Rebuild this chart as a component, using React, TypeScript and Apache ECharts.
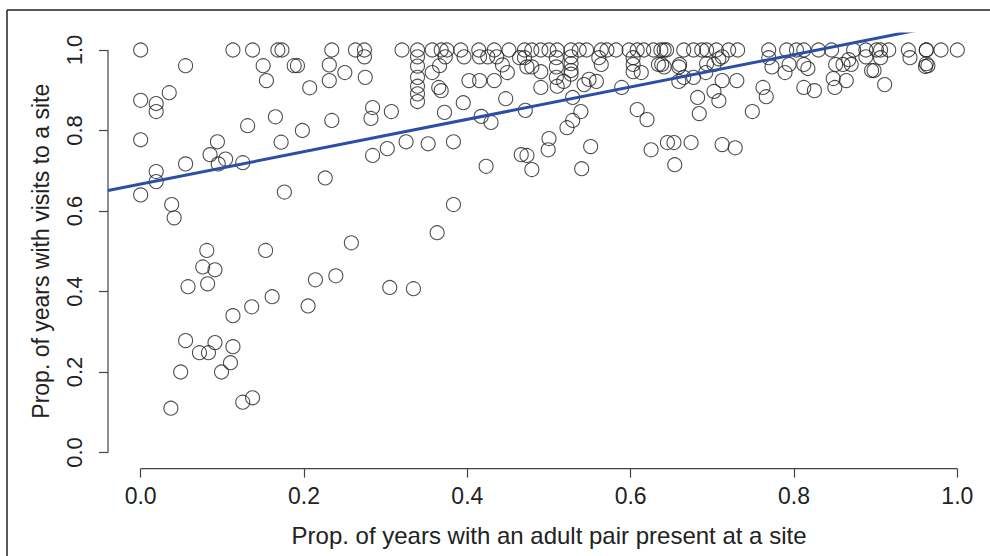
import React, { useEffect, useRef } from "react";
import * as echarts from "echarts";

// x-values of sites whose visit proportion is 1.0
const fullVisitX = [
  0, 0.113, 0.137, 0.168, 0.173, 0.234, 0.263, 0.274, 0.32, 0.339, 0.357, 0.368, 0.375, 0.392,
  0.414, 0.433, 0.451, 0.47, 0.479, 0.49, 0.5, 0.51, 0.527, 0.537, 0.546, 0.564, 0.571, 0.582,
  0.598, 0.608, 0.616, 0.628, 0.637, 0.641, 0.644, 0.665, 0.677, 0.687, 0.693, 0.705, 0.72,
  0.731, 0.769, 0.791, 0.803, 0.812, 0.83, 0.846, 0.873, 0.888, 0.901, 0.906, 0.916, 0.94,
  0.962, 0.962, 0.98, 1.0,
];

// remaining sites: [prop. years with adult pair, prop. years with visits]
const otherSites: [number, number][] = [
  [0.055, 0.961], [0.15, 0.961], [0.154, 0.924], [0.188, 0.961], [0.192, 0.961], [0.207, 0.906],
  [0.231, 0.963], [0.231, 0.924], [0.0, 0.875], [0.019, 0.867], [0.019, 0.847], [0.035, 0.894],
  [0.0, 0.777], [0.131, 0.812], [0.165, 0.834], [0.198, 0.8], [0.234, 0.825], [0.094, 0.772],
  [0.172, 0.771], [0.085, 0.74], [0.104, 0.729], [0.095, 0.717], [0.125, 0.72], [0.055, 0.717],
  [0.019, 0.698], [0.019, 0.673], [0.0, 0.64], [0.038, 0.616], [0.041, 0.583], [0.176, 0.647],
  [0.226, 0.682], [0.081, 0.502], [0.153, 0.502], [0.076, 0.461], [0.091, 0.454], [0.058, 0.412],
  [0.082, 0.419], [0.214, 0.429], [0.239, 0.439], [0.161, 0.387], [0.136, 0.362], [0.205, 0.364],
  [0.113, 0.34], [0.055, 0.278], [0.072, 0.248], [0.083, 0.248], [0.091, 0.273], [0.113, 0.263],
  [0.11, 0.223], [0.099, 0.2], [0.049, 0.2], [0.125, 0.125], [0.137, 0.136], [0.037, 0.11],
  [0.305, 0.41], [0.334, 0.407], [0.383, 0.616], [0.363, 0.546], [0.258, 0.521],
  [0.25, 0.944], [0.274, 0.983], [0.275, 0.932], [0.339, 0.983], [0.339, 0.96], [0.339, 0.932],
  [0.339, 0.91], [0.339, 0.891], [0.339, 0.872], [0.366, 0.961], [0.357, 0.944], [0.373, 0.983],
  [0.365, 0.907], [0.368, 0.899], [0.396, 0.983], [0.415, 0.983], [0.425, 0.983], [0.436, 0.983],
  [0.402, 0.924], [0.415, 0.924], [0.433, 0.924], [0.395, 0.869], [0.372, 0.845], [0.284, 0.857],
  [0.307, 0.847], [0.282, 0.83], [0.417, 0.835], [0.429, 0.82], [0.325, 0.772], [0.302, 0.755],
  [0.352, 0.767], [0.383, 0.772], [0.284, 0.738], [0.423, 0.711], [0.443, 0.963],
  [0.464, 0.981], [0.47, 0.981], [0.473, 0.958], [0.479, 0.958], [0.49, 0.946], [0.509, 0.981],
  [0.509, 0.958], [0.527, 0.983], [0.527, 0.966], [0.527, 0.949], [0.527, 0.94], [0.509, 0.932],
  [0.518, 0.922], [0.51, 0.91], [0.49, 0.907], [0.449, 0.944], [0.447, 0.879], [0.471, 0.85],
  [0.529, 0.882], [0.543, 0.914], [0.549, 0.927], [0.558, 0.922], [0.561, 0.981], [0.564, 0.964],
  [0.539, 0.847], [0.529, 0.825], [0.522, 0.807], [0.5, 0.78], [0.499, 0.752], [0.551, 0.76],
  [0.466, 0.74], [0.473, 0.738], [0.479, 0.703], [0.54, 0.705], [0.589, 0.907], [0.608, 0.852],
  [0.62, 0.827], [0.603, 0.981], [0.603, 0.964], [0.603, 0.946], [0.613, 0.944], [0.634, 0.964],
  [0.641, 0.958], [0.659, 0.958], [0.665, 0.932], [0.659, 0.922], [0.645, 0.77], [0.653, 0.77],
  [0.625, 0.752], [0.654, 0.715], [0.674, 0.77], [0.638, 0.964], [0.66, 0.964],
  [0.693, 0.966], [0.702, 0.964], [0.708, 0.978], [0.712, 0.983], [0.692, 0.944], [0.677, 0.932],
  [0.712, 0.924], [0.73, 0.924], [0.682, 0.882], [0.684, 0.842], [0.702, 0.897], [0.708, 0.874],
  [0.712, 0.765], [0.728, 0.757], [0.749, 0.847], [0.762, 0.907], [0.766, 0.884], [0.769, 0.981],
  [0.773, 0.958], [0.794, 0.964], [0.789, 0.944], [0.812, 0.964], [0.817, 0.954], [0.812, 0.907],
  [0.825, 0.899], [0.851, 0.964], [0.848, 0.929], [0.85, 0.907], [0.864, 0.924], [0.86, 0.964],
  [0.867, 0.976], [0.87, 0.964], [0.888, 0.983], [0.895, 0.949], [0.898, 0.949], [0.911, 0.914],
  [0.906, 0.981], [0.942, 0.981], [0.962, 0.966], [0.964, 0.961], [0.961, 0.959],
];

// fitted regression line end points
const fitX = [-0.04, 1.04];
const fitY = [0.651, 1.085];

const tickValues = [0, 0.2, 0.4, 0.6, 0.8, 1.0];
const axisLo = -0.04;
const axisHi = 1.04;

const FONT = "Liberation Sans, Arial, sans-serif";

export default function App() {
  const ref = useRef<HTMLDivElement>(null);
  useEffect(() => {
    if (!ref.current) return;
    const chart = echarts.init(ref.current, null, { renderer: "svg" });
    const points = [
      ...fullVisitX.map((x) => [x, 1.0]),
      ...otherSites.map((p) => [p[0], p[1]]),
    ];
    const axisCommon = {
      type: "value" as const,
      min: axisLo,
      max: axisHi,
      splitLine: { show: false },
      axisLine: { show: false, onZero: false },
      axisTick: {
        show: true,
        customValues: tickValues,
        length: 9,
        lineStyle: { color: "#444", width: 1.2 },
      },
      nameLocation: "middle" as const,
    };
    chart.setOption({
      animation: false,
      backgroundColor: "#fff",
      grid: { left: 108, top: 33.9, right: -2, bottom: 87.4, containLabel: false },
      xAxis: {
        ...axisCommon,
        name: "Prop. of years with an adult pair present at a site",
        nameGap: 55,
        nameTextStyle: { fontSize: 24, color: "#222", fontFamily: FONT },
        axisLabel: {
          customValues: tickValues,
          formatter: (v: number) => v.toFixed(1),
          fontSize: 23,
          color: "#222",
          fontFamily: FONT,
          margin: 16,
        },
      },
      yAxis: {
        ...axisCommon,
        name: "Prop. of years with visits to a site",
        nameGap: 56,
        nameRotate: 90,
        nameTextStyle: { fontSize: 23, color: "#222", fontFamily: FONT },
        axisLabel: {
          customValues: tickValues,
          formatter: (v: number) => v.toFixed(1),
          fontSize: 22,
          color: "#222",
          fontFamily: FONT,
          rotate: 90,
          margin: 23,
        },
      },
      graphic: [
        { type: "line", shape: { x1: 7, y1: 10, x2: 990, y2: 10 }, style: { stroke: "#222", lineWidth: 1.5 } },
        { type: "line", shape: { x1: 7, y1: 10, x2: 7, y2: 556 }, style: { stroke: "#222", lineWidth: 1.5 } },
      ],
      series: [
        {
          type: "line",
          data: [[tickValues[0], axisLo], [tickValues[tickValues.length - 1], axisLo]],
          symbol: "none",
          silent: true,
          clip: false,
          lineStyle: { color: "#444", width: 1.2 },
        },
        {
          type: "line",
          data: [[axisLo, tickValues[0]], [axisLo, tickValues[tickValues.length - 1]]],
          symbol: "none",
          silent: true,
          clip: false,
          lineStyle: { color: "#444", width: 1.2 },
        },
        {
          type: "scatter",
          data: points,
          symbol: "circle",
          symbolSize: 14,
          itemStyle: { color: "rgba(0,0,0,0)", borderColor: "#222", borderWidth: 1.1 },
          z: 3,
        },
        {
          type: "line",
          data: [[fitX[0], fitY[0]], [fitX[1], fitY[1]]],
          symbol: "none",
          clip: true,
          lineStyle: { color: "#2c4ea6", width: 3 },
          z: 4,
        },
      ],
    });
    return () => chart.dispose();
  }, []);
  return (
    <div
      ref={ref}
      style={{ position: "absolute", left: 0, top: 0, width: 990, height: 556 }}
    />
  );
}
